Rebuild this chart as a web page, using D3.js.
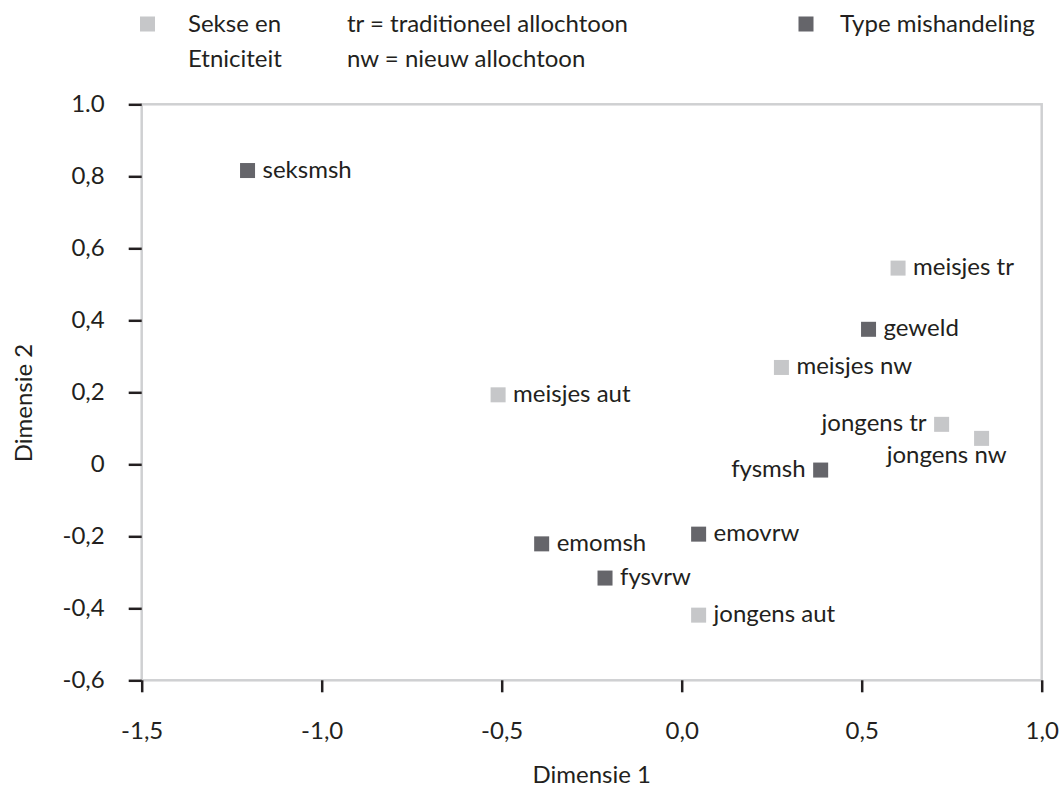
<!DOCTYPE html>
<html>
<head>
<meta charset="utf-8">
<script src="https://cdn.jsdelivr.net/npm/d3@7"></script>
<style>
  body { margin: 0; background: #fff; }
  svg { display: block; font-family: "Lato", "Open Sans", sans-serif; }
  text { fill: #231f20; }
</style>
</head>
<body>
<svg id="chart" width="1059" height="787"></svg>
<script>
// categorieen en coordinaten (dimensie 1 / dimensie 2)
const names = ["seksmsh", "meisjes tr", "geweld", "meisjes nw", "meisjes aut",
  "jongens tr", "jongens nw", "fysmsh", "emomsh", "emovrw", "fysvrw", "jongens aut"]
const dim1 = [-1.206, 0.601, 0.519, 0.277, -0.510, 0.722, 0.833, 0.386, -0.389, 0.047, -0.213, 0.047]
const dim2 = [0.816, 0.545, 0.375, 0.269, 0.193, 0.111, 0.072, -0.016, -0.221, -0.194, -0.316, -0.419]
const groups = ["type", "sekse", "type", "sekse", "sekse",
  "sekse", "sekse", "type", "type", "type", "type", "sekse"]

const xTicks = [-1.5, -1.0, -0.5, 0.0, 0.5, 1.0]
const xTickLabels = ["-1,5", "-1,0", "-0,5", "0,0", "0,5", "1,0"]
const yTicks = [1.0, 0.8, 0.6, 0.4, 0.2, 0, -0.2, -0.4, -0.6]
const yTickLabels = ["1.0", "0,8", "0,6", "0,4", "0,2", "0", "-0,2", "-0,4", "-0,6"]

const data = names.map((n, i) => ({name: n, x: dim1[i], y: dim2[i], group: groups[i]}))

const color = {sekse: "#c6c7c9", type: "#65656a"}
// labels die niet rechts van het punt staan
const labelLeft = ["jongens tr", "fysmsh"]
const labelBelow = ["jongens nw"]

const m = {t: 104.3, b: 106.7, l: 141.7, r: 17.3}
const w = 1059, h = 787
const fs = 24
const sq = 15

const svg = d3.select("#chart")

const xScale = d3.scaleLinear().domain([-1.5, 1.0]).range([m.l, w - m.r])
const yScale = d3.scaleLinear().domain([-0.6, 1.0]).range([h - m.b, m.t])

// kader
svg.append("rect")
  .attr("x", xScale(-1.5))
  .attr("y", yScale(1.0))
  .attr("width", xScale(1.0) - xScale(-1.5))
  .attr("height", yScale(-0.6) - yScale(1.0))
  .attr("fill", "none")
  .attr("stroke", "#cfd0d2")
  .attr("stroke-width", 2.5)

const yAxis = svg.append("g")
  .attr("transform", `translate(${xScale(-1.5)},0)`)
  .call(d3.axisLeft(yScale).tickValues(yTicks)
    .tickFormat((d, i) => yTickLabels[i]).tickSize(13).tickPadding(24))
yAxis.select(".domain").remove()

const xAxis = svg.append("g")
  .attr("transform", `translate(0,${yScale(-0.6)})`)
  .call(d3.axisBottom(xScale).tickValues(xTicks)
    .tickFormat((d, i) => xTickLabels[i]).tickSize(12).tickPadding(30))
xAxis.select(".domain").remove()

svg.selectAll(".tick line").attr("stroke", "#231f20").attr("stroke-width", 2.5)
svg.selectAll(".tick text").attr("font-size", fs).attr("font-family", "Lato").attr("fill", "#231f20")

// as-titels
svg.append("text")
  .attr("x", (xScale(-1.5) + xScale(1.0)) / 2)
  .attr("y", 783)
  .attr("text-anchor", "middle")
  .attr("font-size", fs)
  .text("Dimensie 1")

svg.append("text")
  .attr("transform", `translate(32,403) rotate(-90)`)
  .attr("text-anchor", "middle")
  .attr("font-size", fs)
  .text("Dimensie 2")

// punten
const pts = svg.append("g")
pts.selectAll("rect")
  .data(data)
  .join("rect")
  .attr("x", d => xScale(d.x) - sq / 2)
  .attr("y", d => yScale(d.y) - sq / 2)
  .attr("width", sq)
  .attr("height", sq)
  .attr("fill", d => color[d.group])

pts.selectAll("text")
  .data(data)
  .join("text")
  .attr("font-size", fs)
  .attr("x", d => {
    if (labelBelow.includes(d.name)) return xScale(d.x) + 25
    if (labelLeft.includes(d.name)) return xScale(d.x) - 15
    return xScale(d.x) + 15
  })
  .attr("y", d => labelBelow.includes(d.name) ? yScale(d.y) + 25 : yScale(d.y) + 7)
  .attr("text-anchor", d => (labelLeft.includes(d.name) || labelBelow.includes(d.name)) ? "end" : "start")
  .text(d => d.name)

// legenda
const legend = svg.append("g").attr("font-size", fs)
legend.append("rect").attr("x", 140).attr("y", 16.5).attr("width", sq).attr("height", sq).attr("fill", color.sekse)
legend.append("text").attr("x", 188).attr("y", 32).text("Sekse en")
legend.append("text").attr("x", 188).attr("y", 67).text("Etniciteit")
legend.append("text").attr("x", 347).attr("y", 32).text("tr = traditioneel allochtoon")
legend.append("text").attr("x", 347).attr("y", 67).text("nw = nieuw allochtoon")
legend.append("rect").attr("x", 798.5).attr("y", 16.5).attr("width", sq).attr("height", sq).attr("fill", color.type)
legend.append("text").attr("x", 840).attr("y", 32).text("Type mishandeling")
</script>
</body>
</html>
